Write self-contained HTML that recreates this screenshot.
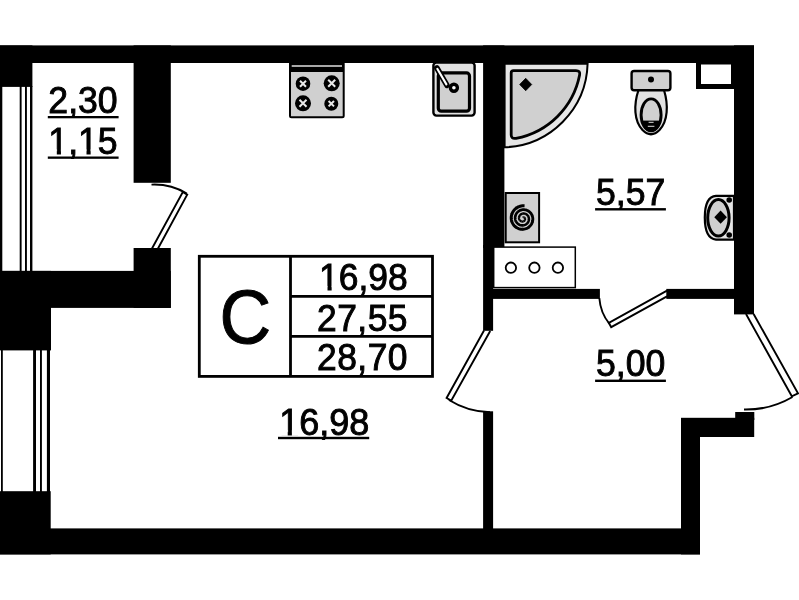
<!DOCTYPE html>
<html><head><meta charset="utf-8">
<style>
html,body{margin:0;padding:0;background:#fff;}
body{width:799px;height:600px;overflow:hidden;}
svg{display:block;}
text{font-family:"Liberation Sans",sans-serif;fill:#000;}
</style></head><body>
<svg width="799" height="600" viewBox="0 0 799 600">
<rect width="799" height="600" fill="#fff"/>
<!-- DOORS -->
<g fill="none" stroke="#000" stroke-width="1.9">
<!-- balcony door -->
<path d="M151.5 184.6 A63 63 0 0 1 186.8 193.5"/>
<path d="M152 248.5 L182.8 192 L187.2 194.7 L158 248.5" fill="#fff"/>
<!-- room door -->
<path d="M449 400 A80 80 0 0 0 490 412.2"/>
<path d="M484 330.5 L446.6 398 L451.2 400.6 L490.2 331" fill="#fff"/>
<!-- bath door -->
<path d="M599.3 298 Q600.5 313 609.3 323.6"/>
<path d="M667 290.6 L608.8 322.8 L611.2 327.2 L667 296.4" fill="#fff"/>
<!-- entrance door -->
<path d="M744 409.6 A93 93 0 0 0 792.5 397" stroke-width="2"/>
<path d="M746 314 L791.8 396.3 L798 393.4 L753.6 314" fill="#fff"/>
</g>
<!-- WALLS -->
<g fill="#000">
<rect x="0" y="45.4" width="754" height="17.6"/>
<rect x="0" y="45.4" width="32.4" height="41.5"/>
<rect x="133.6" y="45.4" width="37.2" height="137.4"/>
<rect x="133.6" y="248" width="37.2" height="59.9"/>
<rect x="0" y="270.9" width="170.8" height="37"/>
<rect x="0" y="270.9" width="51" height="79.5"/>
<rect x="0" y="491.2" width="50.7" height="63.2"/>
<rect x="0" y="528.4" width="700" height="26"/>
<rect x="483.1" y="45.4" width="21.3" height="202.5"/>
<rect x="483.1" y="245" width="10" height="85.8"/>
<rect x="483.1" y="411.3" width="10" height="120"/>
<rect x="493" y="288.9" width="106.9" height="10"/>
<rect x="666.3" y="288.9" width="70" height="10"/>
<rect x="734" y="45.4" width="20" height="269"/>
<rect x="696" y="62" width="40" height="27"/>
<rect x="681" y="418" width="19" height="136.4"/>
<rect x="681" y="417.8" width="73.2" height="19.2"/>
<rect x="735.2" y="412" width="19.1" height="8"/>
</g>
<rect x="701" y="64.5" width="30" height="19.5" fill="#fff"/>
<!-- WINDOWS -->
<g fill="#000">
<rect x="0" y="86" width="2.3" height="186"/>
<rect x="19.7" y="86" width="1.9" height="186"/>
<rect x="25" y="86" width="1.9" height="186"/>
<rect x="30" y="86" width="2.4" height="186"/>
<rect x="1" y="349" width="1.8" height="143"/>
<rect x="33.1" y="349" width="2.9" height="143"/>
<rect x="40" y="349" width="1.9" height="143"/>
<rect x="46.9" y="349" width="3.1" height="143"/>
</g>
<!-- STOVE -->
<g>
<rect x="290" y="62" width="53.7" height="55.2" rx="1.5" fill="#d0d0d0" stroke="#000" stroke-width="2"/>
<rect x="290" y="62" width="53.7" height="10" fill="#000"/>
<rect x="291.7" y="65.3" width="50.3" height="1.4" fill="#f0f0f0"/>
<g fill="#000">
<circle cx="303" cy="83.7" r="7.3"/><circle cx="331.7" cy="83.3" r="8"/>
<circle cx="303" cy="103.3" r="8"/><circle cx="331.3" cy="103.7" r="7"/>
</g>
<g stroke="#e8e8e8" stroke-width="2" fill="none">
<path d="M300 80.7l6 6M306 80.7l-6 6"/>
<path d="M328.2 79.8l7 7M335.2 79.8l-7 7"/>
<path d="M299.5 99.8l7 7M306.5 99.8l-7 7"/>
<path d="M328.6 101l5.4 5.4M334 101l-5.4 5.4"/>
</g>
</g>
<!-- SINK -->
<g>
<rect x="433.4" y="62.6" width="41.2" height="53" rx="3" fill="#e2e2e2" stroke="#000" stroke-width="2.4"/>
<rect x="438.3" y="72.9" width="31.2" height="38.3" rx="3" fill="#d0d0d0" stroke="#000" stroke-width="3.2"/>
<path d="M436.9 68L447 85.4" stroke="#000" stroke-width="5.6" stroke-linecap="round"/>
<path d="M437.3 68.8L446.4 84.4" stroke="#fff" stroke-width="2.1" stroke-linecap="round"/>
<circle cx="453.9" cy="87.8" r="3.5" fill="#fff" stroke="#000" stroke-width="3.4"/>
</g>
<!-- SHOWER -->
<g>
<path d="M504.6 63.8 H587.6 A86 86 0 0 1 504.6 147.3 Z" fill="#e6e6e6" stroke="#000" stroke-width="2"/>
<path d="M513.5 70.6 H576 Q580.5 70.6 579.6 75 A80 80 0 0 1 516 138.3 Q511.2 139.2 511.2 135 V72.8 Q511.2 70.6 513.5 70.6 Z" fill="#d0d0d0" stroke="#000" stroke-width="2.8"/>
<path d="M525.7 78.3l6 6.2l-6 6.2l-6-6.2z" fill="#000" stroke="#000" stroke-width="0.8" stroke-linejoin="round"/>
</g>
<!-- TOILET -->
<g>
<path d="M638.5 90 C633.5 105 634 121 642.5 130 Q651 138.5 659.5 130 C668 121 668.5 105 664 90 Z" fill="#e2e2e2" stroke="#000" stroke-width="2.2"/>
<rect x="631.6" y="71" width="38.8" height="19.3" rx="2.5" fill="#d0d0d0" stroke="#000" stroke-width="2.4"/>
<circle cx="651" cy="79.6" r="3" fill="#000"/>
<clipPath id="seat"><ellipse cx="651.1" cy="114.9" rx="10" ry="16"/></clipPath>
<ellipse cx="651.1" cy="114.9" rx="10" ry="16" fill="#d0d0d0"/>
<rect x="636" y="120.6" width="30" height="14" fill="#000" clip-path="url(#seat)"/>
<ellipse cx="651.1" cy="114.9" rx="10" ry="16" fill="none" stroke="#000" stroke-width="2.9"/>
<rect x="648.6" y="121.8" width="5" height="1" fill="#ddd"/>
<rect x="647.8" y="125.8" width="6.6" height="1" fill="#ddd"/>
</g>
<!-- WASHER -->
<g>
<rect x="505.7" y="193" width="33.4" height="49.3" fill="#d0d0d0" stroke="#000" stroke-width="2"/>
<g fill="none" stroke="#000" stroke-linecap="butt" id="spiral"><path d="M524.56 205.80 L523.45 205.76 L522.34 205.83 L521.25 205.98 L520.18 206.24 L519.14 206.58 L518.14 207.01 L517.19 207.52 L516.28 208.12" stroke-width="3.08"/><path d="M516.87 207.72 L515.99 208.33 L515.17 209.02 L514.41 209.78 L513.73 210.59 L513.12 211.46 L512.59 212.37 L512.15 213.32 L511.79 214.31" stroke-width="3.04"/><path d="M512.01 213.65 L511.69 214.65 L511.45 215.66 L511.30 216.68 L511.24 217.71 L511.27 218.73 L511.38 219.75 L511.59 220.74 L511.88 221.71" stroke-width="3.01"/><path d="M511.68 221.07 L512.00 222.03 L512.39 222.95 L512.87 223.83 L513.42 224.66 L514.03 225.44 L514.71 226.16 L515.44 226.81 L516.23 227.39" stroke-width="2.97"/><path d="M515.70 227.01 L516.50 227.57 L517.34 228.06 L518.22 228.46 L519.12 228.79 L520.04 229.04 L520.98 229.20 L521.93 229.28 L522.87 229.28" stroke-width="2.93"/><path d="M522.25 229.29 L523.19 229.26 L524.11 229.15 L525.03 228.96 L525.91 228.69 L526.77 228.35 L527.59 227.94 L528.36 227.46 L529.09 226.91" stroke-width="2.90"/><path d="M528.61 227.28 L529.32 226.72 L529.98 226.09 L530.57 225.42 L531.10 224.71 L531.56 223.95 L531.96 223.16 L532.28 222.34 L532.53 221.50" stroke-width="2.86"/><path d="M532.37 222.06 L532.59 221.22 L532.74 220.36 L532.81 219.50 L532.81 218.65 L532.73 217.80 L532.58 216.96 L532.36 216.15 L532.06 215.36" stroke-width="2.82"/><path d="M532.26 215.88 L531.95 215.10 L531.57 214.36 L531.13 213.66 L530.64 213.00 L530.09 212.39 L529.50 211.84 L528.86 211.34 L528.18 210.90" stroke-width="2.79"/><path d="M528.63 211.19 L527.95 210.77 L527.23 210.42 L526.49 210.13 L525.73 209.91 L524.96 209.76 L524.19 209.67 L523.42 209.66 L522.65 209.71" stroke-width="2.75"/><path d="M523.15 209.67 L522.39 209.74 L521.64 209.88 L520.91 210.08 L520.20 210.35 L519.53 210.67 L518.88 211.05 L518.28 211.48 L517.72 211.96" stroke-width="2.71"/><path d="M518.09 211.64 L517.55 212.13 L517.05 212.67 L516.61 213.24 L516.22 213.85 L515.89 214.48 L515.62 215.14 L515.40 215.81 L515.25 216.49" stroke-width="2.68"/><path d="M515.34 216.04 L515.21 216.73 L515.14 217.42 L515.13 218.11 L515.18 218.79 L515.29 219.47 L515.45 220.12 L515.68 220.75 L515.95 221.36" stroke-width="2.64"/><path d="M515.76 220.96 L516.05 221.56 L516.39 222.13 L516.78 222.66 L517.21 223.15 L517.67 223.60 L518.17 224.00 L518.70 224.36 L519.25 224.66" stroke-width="2.60"/><path d="M518.88 224.47 L519.44 224.76 L520.02 224.99 L520.62 225.17 L521.22 225.30 L521.83 225.38 L522.44 225.40 L523.04 225.37 L523.63 225.29" stroke-width="2.57"/><path d="M523.24 225.35 L523.83 225.25 L524.40 225.10 L524.95 224.90 L525.48 224.66 L525.98 224.37 L526.45 224.04 L526.89 223.68 L527.29 223.28" stroke-width="2.53"/><path d="M527.03 223.55 L527.41 223.14 L527.76 222.70 L528.06 222.24 L528.32 221.76 L528.54 221.26 L528.71 220.75 L528.83 220.23 L528.90 219.70" stroke-width="2.49"/><path d="M528.86 220.05 L528.92 219.52 L528.93 219.00 L528.90 218.48 L528.82 217.98 L528.70 217.48 L528.54 217.00 L528.34 216.55 L528.10 216.11" stroke-width="2.46"/><path d="M528.26 216.40 L528.01 215.97 L527.72 215.57 L527.41 215.21 L527.06 214.87 L526.70 214.57 L526.31 214.31 L525.90 214.08 L525.48 213.89" stroke-width="2.42"/><path d="M525.76 214.01 L525.34 213.84 L524.90 213.70 L524.46 213.61 L524.02 213.55 L523.58 213.54 L523.14 213.56 L522.72 213.62 L522.30 213.72" stroke-width="2.38"/><path d="M522.58 213.65 L522.16 213.76 L521.77 213.90 L521.39 214.07 L521.04 214.28 L520.70 214.51 L520.40 214.77 L520.12 215.05 L519.87 215.36" stroke-width="2.35"/><path d="M520.03 215.15 L519.79 215.46 L519.58 215.79 L519.40 216.12 L519.26 216.47 L519.14 216.83 L519.06 217.18 L519.02 217.54 L519.00 217.90" stroke-width="2.31"/><path d="M519.01 217.67 L519.01 218.02 L519.03 218.37 L519.09 218.72 L519.18 219.05 L519.29 219.37 L519.43 219.67 L519.60 219.95 L519.78 220.22" stroke-width="2.27"/><path d="M519.66 220.04 L519.85 220.30 L520.07 220.54 L520.30 220.75 L520.54 220.94 L520.80 221.10 L521.06 221.24 L521.33 221.35 L521.61 221.44" stroke-width="2.24"/><path d="M521.43 221.38 L521.71 221.46 L521.99 221.51 L522.26 221.53 L522.54 221.53 L522.81 221.51 L523.07 221.46 L523.32 221.39 L523.56 221.30" stroke-width="2.20"/><path d="M523.40 221.36 L523.64 221.26 L523.86 221.14 L524.06 221.01 L524.25 220.86 L524.42 220.70 L524.58 220.52 L524.71 220.34 L524.82 220.15" stroke-width="2.16"/><path d="M524.75 220.27 L524.86 220.08 L524.94 219.88 L525.01 219.68 L525.05 219.48 L525.08 219.28 L525.09 219.08 L525.08 218.88 L525.05 218.70" stroke-width="2.13"/><path d="M525.07 218.82 L525.04 218.64 L524.99 218.46 L524.92 218.29 L524.84 218.14 L524.75 217.99 L524.65 217.86 L524.54 217.74 L524.42 217.64" stroke-width="2.09"/><path d="M524.50 217.71 L524.38 217.61 L524.26 217.53 L524.13 217.46 L524.00 217.40 L523.86 217.36 L523.73 217.34 L523.61 217.33 L523.48 217.33" stroke-width="2.05"/><path d="M523.56 217.33 L523.44 217.33 L523.32 217.35 L523.21 217.38 L523.11 217.42 L523.01 217.47 L522.93 217.53 L522.85 217.59 L522.79 217.66" stroke-width="2.02"/></g>
</g>
<!-- BOX with 3 circles -->
<rect x="493.7" y="247.1" width="81.6" height="40.5" fill="#fff" stroke="#000" stroke-width="1.5"/>
<g fill="#fff" stroke="#000" stroke-width="1.8">
<circle cx="510.9" cy="267.7" r="5.2"/><circle cx="534.4" cy="267.7" r="5.2"/><circle cx="557.9" cy="267.7" r="5.2"/>
</g>
<!-- BASIN -->
<g>
<path d="M734 195.8 H716 Q704.8 196.5 704.8 217.6 Q704.8 238.8 716 239.6 H734 Z" fill="#e4e4e4" stroke="#000" stroke-width="2.2"/>
<ellipse cx="718.4" cy="217.8" rx="10.7" ry="18.2" fill="#d0d0d0" stroke="#000" stroke-width="3"/>
<path d="M720.6 210.6l6.3 6.6l-6.3 6.6l-6.3-6.6z" fill="#000"/>
<circle cx="729.2" cy="200" r="2.8" fill="#000"/><circle cx="729.2" cy="235" r="2.8" fill="#000"/>
</g>
<!-- TABLE -->
<g fill="none" stroke="#000" stroke-width="2.8">
<rect x="199.3" y="256.3" width="233.2" height="120.1"/>
<path d="M290.5 256.3V376.4M290.5 296.3H432.5M290.5 336.4H432.5"/>
</g>
<g stroke="#000" stroke-width="0.9" text-anchor="middle" opacity="0.999">
<text transform="translate(245.3 343.3) scale(1 1.06)" font-size="71.6">C</text>
<text transform="translate(363.4 290.2) scale(1 1.06)" font-size="35.4">16,98</text>
<text transform="translate(362.5 330.5) scale(1 1.06)" font-size="35.4" letter-spacing="0.5">27,55</text>
<text transform="translate(362.5 370.2) scale(1 1.06)" font-size="35.4" letter-spacing="0.5">28,70</text>
<text transform="translate(83 112.6) scale(1 1.03)" font-size="35.6">2,30</text>
<text transform="translate(83 153.6) scale(1 1.03)" font-size="35.6">1,15</text>
<text transform="translate(630.6 205.4) scale(1 1.03)" font-size="35.6">5,57</text>
<text transform="translate(630.6 376.4) scale(1 1.03)" font-size="35.6">5,00</text>
<text transform="translate(324.2 434.5) scale(1 1.04)" font-size="36.0">16,98</text>
</g>
<g fill="#fff"><rect x="320.35" y="285.92" width="7.16" height="5.66"/><rect x="331.64" y="285.92" width="6.93" height="5.66"/><rect x="49.62" y="149.40" width="7.19" height="5.57"/><rect x="60.95" y="149.40" width="6.96" height="5.57"/><rect x="79.31" y="149.40" width="7.19" height="5.57"/><rect x="90.64" y="149.40" width="6.96" height="5.57"/><rect x="280.45" y="430.23" width="7.26" height="5.63"/><rect x="291.89" y="430.23" width="7.03" height="5.63"/></g>
<g fill="#000">
<rect x="47.8" y="116" width="70.8" height="2.3"/>
<rect x="47.8" y="156.5" width="70.8" height="2.3"/>
<rect x="595.1" y="208.1" width="70.8" height="2.4"/>
<rect x="595.1" y="379.6" width="70.8" height="2.4"/>
<rect x="278" y="436.8" width="91.2" height="2.4"/>
</g>
</svg>

</body></html>
